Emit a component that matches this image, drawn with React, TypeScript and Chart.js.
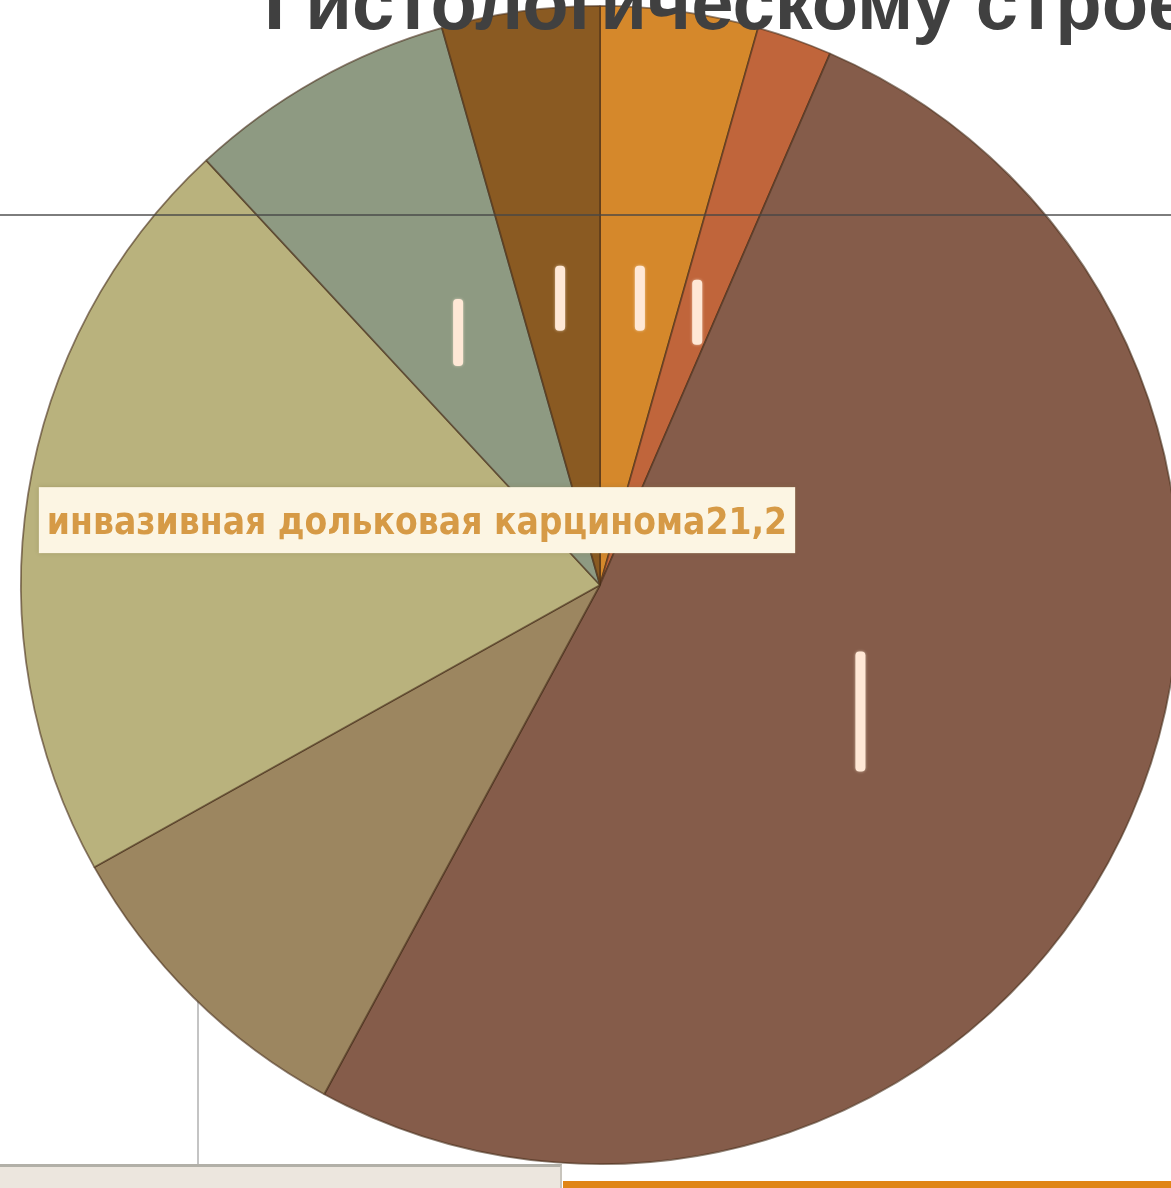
import React, { useEffect, useRef } from "react";
import { Chart, registerables } from "chart.js";

Chart.register(...registerables);

const categories = [
  "тубулярная карцинома",
  "медуллярная карцинома",
  "инвазивная протоковая карцинома",
  "смешанная карцинома",
  "инвазивная дольковая карцинома",
  "муцинозная карцинома",
  "другие формы",
];
const values = [4.4, 2.1, 51.4, 9.0, 21.2, 7.5, 4.4];
const colors = ["#D5882B", "#C0653B", "#855C4A", "#9C8660", "#B9B27D", "#8E9A82", "#8A5A22"];
const titleText = "Гистологическому строению";
const labelledIndex = 4;
const markHeights = [65, 65, 120, 0, 0, 67, 65];

const fmt = (v: number) => v.toFixed(1).replace(".", ",");

const labelPlugin = {
  id: "sliceLabels",
  afterDatasetsDraw(chart: any) {
    const ctx = chart.ctx;
    const meta = chart.getDatasetMeta(0);
    meta.data.forEach((arc: any, i: number) => {
      const p = arc.tooltipPosition();
      const h = markHeights[i];
      if (h > 0) {
        ctx.save();
        ctx.fillStyle = "#FFE8D6";
        ctx.shadowColor = "rgba(255,240,220,0.6)";
        ctx.shadowBlur = 3;
        ctx.beginPath();
        (ctx as any).roundRect(p.x - 5, p.y - h / 2, 10, h, 4);
        ctx.fill();
        ctx.restore();
      }
    });
    const arc = meta.data[labelledIndex];
    if (arc) {
      const { x, y, outerRadius } = arc.getProps(["x", "y", "outerRadius"], true);
      const right = x + 0.337 * outerRadius;
      const cy = y - 0.112 * outerRadius;
      const left = x - 0.969 * outerRadius;
      const bh = 66;
      ctx.save();
      ctx.fillStyle = "#FCF5E3";
      ctx.shadowColor = "rgba(120,110,60,0.35)";
      ctx.shadowBlur = 4;
      ctx.fillRect(left, cy - bh / 2, right - left, bh);
      ctx.restore();
      const text = categories[labelledIndex] + fmt(values[labelledIndex]);
      ctx.save();
      ctx.font = "bold 38px 'DejaVu Sans'";
      const w = ctx.measureText(text).width;
      const target = right - left - 16;
      ctx.translate(left + 8, cy + 14);
      ctx.scale(target / w, 1);
      ctx.fillStyle = "#D69A46";
      ctx.textBaseline = "alphabetic";
      ctx.fillText(text, 0, 0);
      ctx.restore();
    }
  },
};

export default function App() {
  const ref = useRef<HTMLCanvasElement>(null);
  useEffect(() => {
    if (!ref.current) return;
    const chart = new Chart(ref.current, {
      type: "pie",
      data: {
        labels: categories,
        datasets: [
          {
            data: values,
            backgroundColor: colors,
            borderColor: "rgba(70,45,25,0.6)",
            borderWidth: 1.8,
          },
        ],
      },
      options: {
        responsive: false,
        animation: false,
        devicePixelRatio: 1,
        layout: { padding: { left: 20, right: 20, top: 5, bottom: 23 } },
        plugins: {
          legend: { display: false },
          tooltip: { enabled: false },
          title: { display: false },
        },
      },
      plugins: [labelPlugin],
    });
    return () => chart.destroy();
  }, []);

  return (
    <div
      style={{
        position: "absolute",
        left: 0,
        top: 0,
        width: 1171,
        height: 1188,
        overflow: "hidden",
        background: "#ffffff",
      }}
    >
      <div style={{ position: "absolute", left: 197, top: 960, width: 2, height: 228, background: "#c4c4c4" }} />
      <canvas ref={ref} width={1200} height={1188} style={{ position: "absolute", left: 0, top: 0 }} />
      <div
        style={{
          position: "absolute",
          left: 0,
          top: 214,
          width: 1171,
          height: 2,
          background: "rgba(70,70,70,0.7)",
        }}
      />
      <div
        style={{
          position: "absolute",
          left: 264,
          top: -35,
          whiteSpace: "nowrap",
          fontFamily: "'Liberation Sans', Arial, sans-serif",
          fontWeight: "bold",
          fontSize: 76,
          lineHeight: "76px",
          color: "#404040",
        }}
      >
        {titleText}
      </div>
      <div
        style={{
          position: "absolute",
          left: 0,
          top: 1164,
          width: 562,
          height: 24,
          background: "#ECE6DE",
          borderTop: "3px solid #B2B0A8",
          borderRight: "2px solid #C8C4BC",
          boxSizing: "border-box",
        }}
      />
      <div style={{ position: "absolute", left: 563, top: 1181, width: 608, height: 7, background: "#E08516" }} />
    </div>
  );
}
